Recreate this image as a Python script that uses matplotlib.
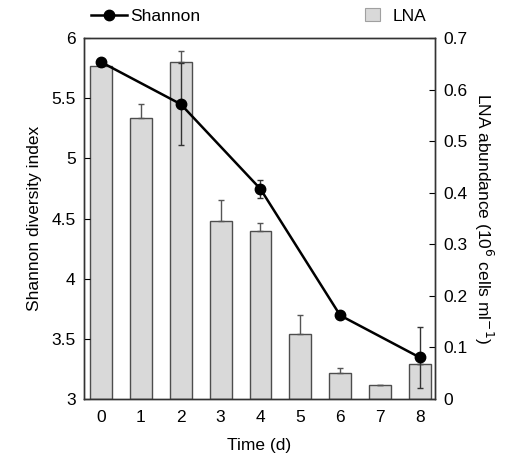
import matplotlib
matplotlib.use('Agg')
import matplotlib.pyplot as plt
from matplotlib.lines import Line2D
from matplotlib.patches import Patch

plt.rcParams['font.family'] = ['Liberation Sans', 'DejaVu Sans']

# LNA abundance (10^6 cells/ml), bars for each day
days = [0, 1, 2, 3, 4, 5, 6, 7, 8]
lna = [0.646, 0.545, 0.654, 0.345, 0.326, 0.127, 0.051, 0.027, 0.068]
lna_err = [0.0, 0.028, 0.021, 0.040, 0.015, 0.036, 0.010, 0.001, 0.0]

# Shannon diversity, sampled every other day
shannon_days = [0, 2, 4, 6, 8]
shannon = [5.80, 5.45, 4.745, 3.695, 3.345]
shannon_err = [0.0, 0.34, 0.072, 0.0, 0.256]

FS = 12.5

fig = plt.figure(figsize=(5.14, 4.58), dpi=100)
ax = fig.add_axes([0.1634, 0.1288, 0.6829, 0.7882])
ax2 = ax.twinx()

# bars on the right axis, drawn below the line
ax2.bar(days, lna, width=0.55, color='#d9d9d9', edgecolor='#4d4d4d',
        linewidth=1.0, zorder=1)
ax2.errorbar(days, lna, yerr=[[0] * len(lna), lna_err], fmt='none',
             ecolor='#555555', elinewidth=1.0, capsize=2.5, capthick=1.0, zorder=2)
ax2.set_ylim(0, 0.7)
ax2.set_yticks([0, 0.1, 0.2, 0.3, 0.4, 0.5, 0.6, 0.7])
ax2.set_yticklabels(['0', '0.1', '0.2', '0.3', '0.4', '0.5', '0.6', '0.7'])
ax2.set_ylabel('LNA abundance (10$^{6}$ cells ml$^{-1}$)', fontsize=FS,
               rotation=270, labelpad=20)

# line on the left axis, put on top
ax.set_zorder(ax2.get_zorder() + 1)
ax.patch.set_visible(False)
ax.errorbar(shannon_days, shannon, yerr=shannon_err, fmt='none',
            ecolor='#333333', elinewidth=1.0, capsize=2.5, capthick=1.0, zorder=3)
ax.plot(shannon_days, shannon, color='black', linewidth=1.8, marker='o',
        markersize=7.5, zorder=4)
ax.set_ylim(3, 6)
ax.set_yticks([3, 3.5, 4, 4.5, 5, 5.5, 6])
ax.set_yticklabels(['3', '3.5', '4', '4.5', '5', '5.5', '6'])
ax.set_xlim(-0.43, 8.38)
ax.set_xticks(days)
ax.set_xlabel('Time (d)', fontsize=FS, labelpad=9)
ax.set_ylabel('Shannon diversity index', fontsize=FS, labelpad=7)

for a in (ax, ax2):
    a.tick_params(axis='y', direction='in', length=4.5, labelsize=FS, pad=6)
    a.tick_params(axis='x', length=0, labelsize=FS, pad=8)
    for s in a.spines.values():
        s.set_linewidth(1.0)
        s.set_color('#333333')

# legend above the plot
h1 = Line2D([0], [0], color='black', linewidth=1.8, marker='o', markersize=7.5)
fig.legend(handles=[h1], labels=['Shannon'], loc='center left',
           bbox_to_anchor=(0.146, 0.965), frameon=False, fontsize=FS,
           handlelength=2.1, handletextpad=0.2)
h2 = Patch(facecolor='#d9d9d9', edgecolor='#a0a0a0', linewidth=0.8)
fig.legend(handles=[h2], labels=['LNA'], loc='center left',
           bbox_to_anchor=(0.679, 0.965), frameon=False, fontsize=FS,
           handlelength=0.86, handleheight=0.8, handletextpad=0.75)

fig.savefig('out.png', dpi=100)
